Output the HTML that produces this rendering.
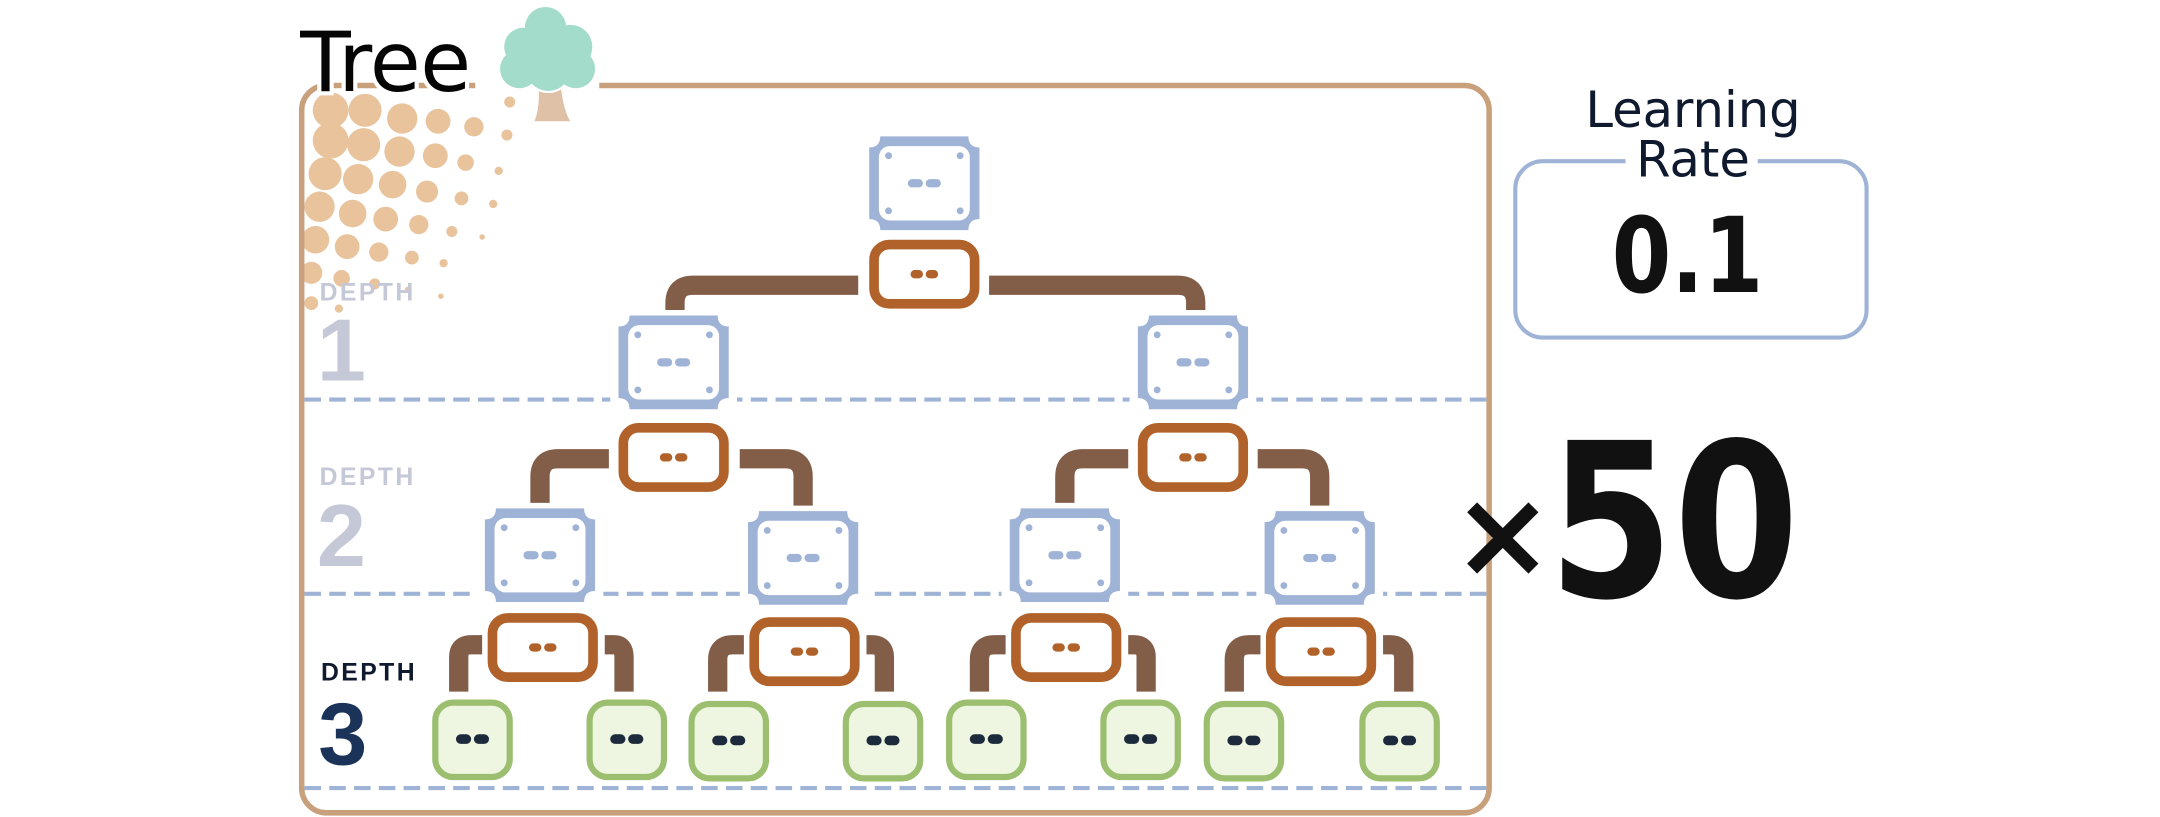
<!DOCTYPE html>
<html><head><meta charset="utf-8"><style>
html,body{margin:0;padding:0;background:#fff;}
svg{display:block;}
text{font-family:"Liberation Sans","DejaVu Sans",sans-serif;}
</style></head><body>
<svg width="2160" height="817" viewBox="0 0 1568 593" xmlns="http://www.w3.org/2000/svg">
<defs>
<g id="blue">
<path d="M8,0 H72 Q72,8 80,8 V60 Q72,60 72,68 H8 Q8,60 0,60 V8 Q8,8 8,0 Z" fill="#9fb3d6"/>
<rect x="7" y="7" width="66" height="54" rx="8" fill="#fff"/>
<circle cx="14" cy="14" r="2.5" fill="#9fb3d6"/><circle cx="66" cy="14" r="2.5" fill="#9fb3d6"/>
<circle cx="14" cy="54" r="2.5" fill="#9fb3d6"/><circle cx="66" cy="54" r="2.5" fill="#9fb3d6"/>
<rect x="28" y="31" width="11" height="6" rx="3" fill="#9fb3d6"/><rect x="41" y="31" width="11" height="6" rx="3" fill="#9fb3d6"/>
</g>
<g id="orange">
<rect x="3.5" y="3.5" width="73" height="43" rx="11" fill="#fff" stroke="#b0622a" stroke-width="7"/>
<rect x="30" y="22" width="9" height="6" rx="3" fill="#b0622a"/><rect x="41" y="22" width="9" height="6" rx="3" fill="#b0622a"/>
</g>
<g id="leaf">
<rect x="2" y="2" width="54" height="54" rx="13" fill="#eef5e1" stroke="#9bbf6f" stroke-width="4.5"/>
<rect x="17" y="25" width="11" height="7" rx="3.5" fill="#1c2a3c"/><rect x="30" y="25" width="11" height="7" rx="3.5" fill="#1c2a3c"/>
</g>
</defs>

<g fill="#e8c39c">
<circle cx="240" cy="80" r="13"/><circle cx="265" cy="80" r="12"/><circle cx="292" cy="86" r="11"/><circle cx="318" cy="88" r="9"/><circle cx="344" cy="92" r="7"/><circle cx="368" cy="98" r="4"/><circle cx="370" cy="74" r="4"/>
<circle cx="240" cy="102" r="13"/><circle cx="264" cy="105" r="12"/><circle cx="290" cy="110" r="11"/><circle cx="316" cy="113" r="9"/><circle cx="338" cy="118" r="6"/><circle cx="362" cy="124" r="3"/>
<circle cx="236" cy="126" r="12"/><circle cx="260" cy="130" r="11"/><circle cx="285" cy="134" r="10"/><circle cx="310" cy="139" r="8"/><circle cx="335" cy="144" r="5"/><circle cx="358" cy="148" r="3"/>
<circle cx="232" cy="150" r="11"/><circle cx="256" cy="155" r="10"/><circle cx="280" cy="159" r="9"/><circle cx="304" cy="163" r="7"/><circle cx="328" cy="168" r="4"/><circle cx="350" cy="172" r="2"/>
<circle cx="229" cy="174" r="10"/><circle cx="252" cy="179" r="9"/><circle cx="275" cy="183" r="7"/><circle cx="299" cy="187" r="5"/><circle cx="322" cy="191" r="3"/>
<circle cx="226" cy="198" r="8"/><circle cx="248" cy="202" r="6"/><circle cx="272" cy="206" r="4"/><circle cx="296" cy="210" r="2"/><circle cx="320" cy="215" r="2"/>
<circle cx="226" cy="220" r="5"/><circle cx="246" cy="224" r="3"/>
</g>

<rect x="219" y="62" width="862" height="528" rx="18" fill="none" stroke="#c9a07c" stroke-width="4"/>
<rect x="345" y="56" width="90" height="12" fill="#fff"/>

<g stroke="#9fb3d6" stroke-width="3" stroke-dasharray="12 6">
<line x1="221" y1="290" x2="1079" y2="290"/>
<line x1="221" y1="431" x2="1079" y2="431"/>
<line x1="221" y1="572" x2="1079" y2="572"/>
</g>

<text x="218" y="66" font-size="60" textLength="124" fill="#050505" stroke="#fff" stroke-width="6" paint-order="stroke" style='font-family:"DejaVu Sans",sans-serif'>Tree</text>
<path d="M391,62 H407 Q409,80 414,88 H388 Q392,78 391,62 Z" fill="#dfc1a8"/>
<g fill="#a4dccb" stroke="#fff" stroke-width="3">
<circle cx="396" cy="20" r="15"/><circle cx="414" cy="34" r="16"/><circle cx="380" cy="34" r="14"/>
<circle cx="377" cy="50" r="14"/><circle cx="418" cy="50" r="14"/><circle cx="398" cy="50" r="16"/>
</g>
<g fill="#a4dccb">
<circle cx="396" cy="20" r="15"/><circle cx="414" cy="34" r="16"/><circle cx="380" cy="34" r="14"/>
<circle cx="377" cy="50" r="14"/><circle cx="418" cy="50" r="14"/><circle cx="398" cy="50" r="16"/>
</g>

<text x="232" y="218" font-size="18" font-weight="bold" textLength="68" fill="#c5c8d6">DEPTH</text>
<text x="230" y="276" font-size="64" font-weight="bold" fill="#c5c8d6">1</text>
<text x="232" y="352" font-size="18" font-weight="bold" textLength="68" fill="#c5c8d6">DEPTH</text>
<text x="230" y="411" font-size="64" font-weight="bold" fill="#c5c8d6">2</text>
<text x="233" y="494" font-size="18" font-weight="bold" textLength="68" fill="#0f1a2e">DEPTH</text>
<text x="231" y="555" font-size="64" font-weight="bold" fill="#1b3358">3</text>

<g fill="none" stroke="#825e48" stroke-width="14">
<path d="M623,207 H503 Q490,207 490,220 V230"/>
<path d="M718,207 H855 Q868,207 868,220 V230"/>
<path d="M442,333 H405 Q392,333 392,346 V369"/>
<path d="M537,333 H570 Q583,333 583,346 V371"/>
<path d="M819,333 H786 Q773,333 773,346 V369"/>
<path d="M913,333 H945 Q958,333 958,346 V371"/>
<path d="M350,468 H342 Q333,468 333,477 V502"/>
<path d="M439,468 H446 Q453,468 453,477 V502"/>
<path d="M540,468 H532 Q521,468 521,479 V502"/>
<path d="M629,468 H633 Q642,468 642,477 V502"/>
<path d="M730,468 H722 Q711,468 711,479 V502"/>
<path d="M819,468 H823 Q832,468 832,477 V502"/>
<path d="M915,468 H907 Q896,468 896,479 V502"/>
<path d="M1004,468 H1009 Q1019,468 1019,478 V502"/>
</g>

<rect x="625" y="95" width="92" height="76" fill="#fff"/>
<rect x="346" y="365" width="92" height="77" fill="#fff"/>
<rect x="537" y="367" width="92" height="77" fill="#fff"/>
<rect x="727" y="365" width="92" height="77" fill="#fff"/>
<rect x="912" y="367" width="92" height="77" fill="#fff"/>
<rect x="443" y="225" width="92" height="77" fill="#fff"/>
<rect x="820" y="225" width="92" height="77" fill="#fff"/>
<use href="#blue" x="631" y="99"/>
<use href="#blue" x="449" y="229"/>
<use href="#blue" x="826" y="229"/>
<use href="#blue" x="352" y="369"/>
<use href="#blue" x="543" y="371"/>
<use href="#blue" x="733" y="369"/>
<use href="#blue" x="918" y="371"/>

<use href="#orange" x="631" y="174"/>
<use href="#orange" x="449" y="307"/>
<use href="#orange" x="826" y="307"/>
<use href="#orange" x="354" y="445"/>
<use href="#orange" x="544" y="448"/>
<use href="#orange" x="734" y="445"/>
<use href="#orange" x="919" y="448"/>

<use href="#leaf" x="314" y="508"/>
<use href="#leaf" x="426" y="508"/>
<use href="#leaf" x="500" y="509"/>
<use href="#leaf" x="612" y="509"/>
<use href="#leaf" x="687" y="508"/>
<use href="#leaf" x="799" y="508"/>
<use href="#leaf" x="874" y="509"/>
<use href="#leaf" x="987" y="509"/>

<rect x="1100" y="117" width="255" height="128" rx="20" fill="#fff" stroke="#9fb3d6" stroke-width="3"/>
<rect x="1180" y="105" width="96" height="26" fill="#fff"/>
<text x="1229" y="92" font-size="36" text-anchor="middle" fill="#0f1a2e" style='font-family:"DejaVu Sans",sans-serif'>Learning</text>
<text x="1229" y="128" font-size="36" text-anchor="middle" fill="#0f1a2e" style='font-family:"DejaVu Sans",sans-serif'>Rate</text>
<text x="1170" y="212" font-size="76" font-weight="bold" textLength="110" lengthAdjust="spacingAndGlyphs" fill="#111" style='font-family:"DejaVu Sans",sans-serif'>0.1</text>

<text x="1054" y="418" font-size="88" font-weight="bold" fill="#111" style='font-family:"DejaVu Sans",sans-serif'>×</text>
<text x="1124" y="433" font-size="156" font-weight="bold" textLength="182" lengthAdjust="spacingAndGlyphs" fill="#111" style='font-family:"DejaVu Sans",sans-serif'>50</text>
</svg>
</body></html>
